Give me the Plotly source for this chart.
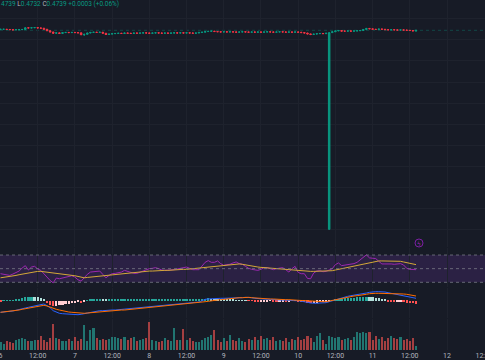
import plotly.graph_objects as go
import pandas as pd

# ---------------- data (prices in 1e-4 units) ----------------
opens = [4743,4744,4744,4743,4742,4741,4742,4742,4743,4751,
4750,4751,4752,4750,4749,4744,4737,4731,4725,4727,
4724,4728,4729,4728,4729,4728,4727,4718,4720,4726,
4729,4730,4729,4730,4725,4719,4721,4723,4724,4725,
4724,4726,4725,4724,4726,4725,4726,4727,4726,4725,
4726,4727,4726,4725,4726,4725,4726,4727,4726,4727,
4726,4727,4726,4725,4726,4729,4730,4733,4734,4735,
4733,4732,4731,4732,4731,4732,4731,4730,4731,4732,
4731,4730,4731,4730,4731,4730,4731,4732,4731,4730,
4731,4732,4731,4730,4731,4730,4731,4730,4728,4726,
4722,4719,4721,4723,4724,4723,3793,4728,4732,4736,
4738,4735,4735,4736,4735,4736,4737,4738,4743,4748,
4746,4744,4743,4745,4744,4742,4741,4742,4741,4740,
4741,4740,4739,4738,4736]
highs = [4745,4745,4745,4744,4743,4743,4743,4744,4753,4752,
4753,4754,4753,4751,4750,4745,4738,4732,4729,4728,
4729,4730,4730,4730,4730,4729,4728,4722,4727,4730,
4731,4731,4731,4731,4726,4722,4724,4725,4726,4726,
4727,4727,4726,4727,4727,4727,4728,4728,4727,4727,
4728,4728,4727,4727,4727,4727,4728,4728,4728,4728,
4728,4728,4727,4727,4730,4731,4734,4736,4737,4736,
4734,4733,4733,4733,4733,4733,4732,4732,4733,4733,
4732,4732,4732,4732,4732,4732,4733,4733,4732,4732,
4733,4733,4732,4732,4732,4732,4732,4731,4729,4727,
4723,4722,4724,4725,4725,4726,4729,4733,4737,4740,
4739,4736,4737,4737,4737,4738,4739,4744,4750,4749,
4747,4745,4746,4746,4745,4743,4743,4743,4742,4742,
4742,4741,4740,4739,4739]
lows = [4742,4743,4742,4741,4740,4740,4741,4741,4742,4749,
4749,4750,4748,4747,4743,4735,4729,4722,4723,4722,
4723,4727,4727,4727,4727,4725,4716,4712,4719,4725,
4728,4728,4728,4724,4717,4718,4720,4722,4723,4723,
4723,4724,4723,4723,4724,4724,4725,4725,4724,4724,
4725,4725,4724,4724,4724,4724,4725,4725,4725,4725,
4725,4725,4724,4724,4725,4728,4729,4732,4733,4732,
4731,4730,4730,4730,4730,4730,4729,4729,4730,4730,
4729,4729,4729,4729,4729,4729,4730,4730,4729,4729,
4730,4730,4729,4729,4729,4729,4729,4727,4725,4720,
4716,4718,4720,4722,4722,4722,3793,4727,4731,4735,
4734,4734,4734,4734,4734,4735,4736,4737,4742,4745,
4743,4742,4742,4743,4741,4740,4740,4740,4739,4739,
4739,4738,4737,4735,4732]
closes = [4744,4744,4743,4742,4741,4742,4742,4743,4751,4750,
4751,4752,4750,4749,4744,4737,4731,4725,4727,4724,
4728,4729,4728,4729,4728,4727,4718,4720,4726,4729,
4730,4729,4730,4725,4719,4721,4723,4724,4725,4724,
4726,4725,4724,4726,4725,4726,4727,4726,4725,4726,
4727,4726,4725,4726,4725,4726,4727,4726,4727,4726,
4727,4726,4725,4726,4729,4730,4733,4734,4735,4733,
4732,4731,4732,4731,4732,4731,4730,4731,4732,4731,
4730,4731,4730,4731,4730,4731,4732,4731,4730,4731,
4732,4731,4730,4731,4730,4731,4730,4728,4726,4722,
4719,4721,4723,4724,4723,4725,4728,4732,4736,4738,
4735,4735,4736,4735,4736,4737,4738,4743,4748,4746,
4744,4743,4745,4744,4742,4741,4742,4741,4740,4741,
4740,4739,4738,4736,4739]

volumes = [8,6,9,8,7,10,11,12,11,9,
9,10,10,14,10,8,12,26,12,11,
9,9,11,9,13,9,11,25,9,20,
22,12,10,11,10,11,13,13,12,11,
13,10,12,13,9,10,11,12,28,10,
9,8,9,12,10,9,22,10,10,21,
10,12,9,8,8,10,12,13,15,20,
10,8,12,9,15,10,9,12,9,8,
11,10,13,10,14,11,12,10,13,9,
10,9,12,8,11,10,13,10,11,14,
12,8,14,17,10,6,14,13,12,13,
10,11,12,10,13,18,17,18,17,18,
10,14,11,13,9,12,14,12,11,13,
10,11,9,12,4]

rsi = [42.6,41.6,40.6,40.1,42.1,44.1,46.5,51.0,54.4,48.0,
52.4,53.4,49.5,47.5,42.6,36.6,32.7,29.2,36.2,35.2,
36.2,37.6,38.6,39.6,37.6,33.7,31.7,37.1,41.6,45.0,
45.5,46.0,46.5,41.6,36.6,40.1,42.6,43.1,43.6,45.0,
47.5,46.0,44.1,43.1,43.1,45.0,46.5,48.5,50.0,50.5,
51.5,50.0,48.0,47.5,47.5,48.0,48.5,49.5,50.5,51.5,
52.4,50.5,48.5,48.5,48.5,53.9,59.3,61.8,59.3,59.3,
61.3,57.4,54.9,55.9,56.4,58.4,59.8,57.4,56.4,53.4,
50.5,49.0,48.5,47.5,49.0,51.5,51.5,49.5,48.5,50.0,
51.0,51.5,48.5,45.0,50.0,53.4,44.5,42.6,42.6,35.7,
35.2,43.6,46.5,47.0,45.5,46.0,48.0,50.0,55.9,58.4,
54.4,54.9,55.9,56.4,57.4,59.3,62.8,67.2,70.2,65.8,
64.8,64.8,60.8,56.9,56.9,57.4,56.9,56.4,56.9,57.4,
55.4,50.5,49.0,48.5,48.5]
rsi_ma = [36.6,37.1,38.1,38.6,39.1,40.1,41.1,42.1,43.1,44.1,
45.0,45.5,46.0,46.0,45.5,45.0,44.5,44.1,43.6,43.1,
42.6,42.1,41.6,40.6,39.6,38.6,37.6,36.6,37.1,37.6,
38.6,39.1,39.6,40.1,40.6,41.1,41.6,41.6,42.1,42.6,
43.1,43.6,44.1,44.1,44.5,45.0,45.5,46.0,46.5,46.5,
47.0,47.0,47.5,47.5,47.5,48.0,48.0,48.5,48.5,49.0,
49.0,49.5,49.5,50.0,50.0,50.5,51.0,51.5,52.4,52.9,
53.4,53.9,54.4,54.9,55.4,55.9,56.4,56.9,56.4,55.4,
54.4,53.4,52.9,52.4,51.9,51.5,51.5,51.0,50.5,50.5,
50.0,49.5,49.0,48.5,48.0,47.5,47.0,46.5,46.5,46.0,
46.0,46.0,46.0,46.0,46.0,46.0,46.5,47.0,48.0,49.0,
50.0,51.0,51.9,52.4,53.4,54.4,55.4,56.4,57.4,58.4,
59.3,60.3,61.3,61.3,61.3,61.3,61.3,61.3,61.3,60.8,
59.8,58.8,57.9,56.9,55.9]

# MACD values in 1e-4 units
macd = [-11.6,-11.3,-11.3,-11.0,-10.3,-9.6,-8.6,-8.0,-7.3,-6.6,
-6.0,-5.3,-4.6,-4.0,-3.3,-5.0,-7.0,-10.0,-11.6,-12.6,
-13.0,-13.3,-13.3,-13.6,-13.6,-14.0,-13.6,-13.0,-12.3,-11.6,
-11.0,-10.3,-10.0,-10.0,-9.6,-9.6,-9.3,-9.3,-9.0,-8.6,
-8.3,-8.0,-7.6,-7.6,-7.3,-7.0,-6.6,-6.3,-6.0,-5.6,
-5.3,-5.0,-4.6,-4.3,-4.0,-3.6,-3.3,-3.0,-2.6,-2.6,
-2.3,-2.0,-1.6,-1.3,-1.3,0.0,1.4,1.7,2.0,2.4,
2.4,2.4,2.4,2.4,2.4,2.4,2.7,3.0,3.0,3.4,
3.4,3.0,2.4,2.0,1.7,1.7,1.4,1.4,1.0,0.7,
0.7,0.7,0.4,0.4,0.4,0.0,0.0,-0.3,-1.0,-1.6,
-2.3,-2.6,-2.6,-2.3,-2.3,-2.0,-1.0,0.0,0.7,1.7,
2.4,3.4,4.4,5.0,5.4,6.0,6.4,7.0,7.7,8.4,
9.0,9.0,9.0,9.0,8.7,8.0,7.4,7.0,6.4,6.0,
5.4,4.7,3.7,3.0,2.4]
signal = [-11.6,-11.3,-11.0,-10.6,-10.3,-10.0,-9.3,-8.6,-8.0,-7.6,
-7.0,-6.3,-5.6,-5.0,-4.6,-5.3,-6.6,-7.6,-8.6,-9.3,
-10.0,-11.0,-11.3,-11.6,-12.0,-12.3,-12.6,-12.6,-12.3,-12.0,
-11.6,-11.3,-11.0,-10.6,-10.6,-10.3,-10.0,-10.0,-9.6,-9.3,
-9.3,-9.0,-8.6,-8.6,-8.3,-8.0,-7.6,-7.3,-7.0,-6.6,
-6.3,-6.0,-5.6,-5.3,-5.0,-4.6,-4.3,-4.0,-3.6,-3.3,
-3.3,-3.0,-2.6,-2.3,-2.0,-1.6,-1.0,-0.6,0.0,0.4,
0.7,1.0,1.4,1.7,2.0,2.4,2.7,3.0,3.0,3.4,
3.4,3.0,2.7,2.4,2.0,2.0,1.7,1.7,1.7,1.4,
1.4,1.4,1.0,1.0,0.7,0.7,0.4,0.4,0.0,0.0,
-0.3,-0.3,-0.6,-0.6,-1.0,-1.0,-0.3,0.0,0.7,1.4,
2.0,2.7,3.4,4.0,4.7,5.0,5.7,6.0,6.4,7.0,
7.4,7.4,7.4,7.4,7.4,7.4,7.4,7.0,7.0,6.7,
6.7,6.4,5.7,5.4,4.7]
hist = [-0.5,0.3,0.3,0.5,0.6,0.8,1.5,3.0,3.5,4.0,
4.0,3.8,3.5,3.0,2.0,-2.0,-4.0,-5.0,-5.0,-4.5,
-4.0,-3.5,-3.0,-2.5,-2.0,-1.5,-2.0,-0.8,0.5,1.0,
1.5,1.8,2.0,1.5,1.0,1.0,1.2,1.3,1.4,1.4,
1.5,1.5,1.6,1.6,1.6,1.7,1.7,1.7,1.8,1.8,
1.8,1.8,1.9,1.9,1.9,1.9,2.0,2.0,2.0,2.0,
2.0,2.0,2.0,2.0,2.0,2.1,2.2,2.3,2.2,2.0,
1.8,1.6,1.4,1.2,1.0,0.8,0.6,0.4,0.3,0.2,
-0.2,-0.3,-0.5,-0.6,-0.5,-0.4,-0.4,-0.3,-0.5,-0.6,
-0.5,-0.4,-0.5,-0.4,-0.3,-0.3,-0.4,-0.8,-1.2,-1.8,
-2.2,-2.0,-1.8,-1.6,-1.4,-1.0,-0.5,0.5,1.5,2.0,
2.2,2.5,2.8,3.0,3.2,3.5,3.8,4.0,4.2,3.8,
3.5,3.0,2.5,2.0,1.5,-0.5,-1.0,-1.2,-1.0,-0.8,
-1.2,-1.8,-2.3,-2.6,-2.8]

tick_labels = ["6", "12:00", "7", "12:00", "8", "12:00", "9", "12:00",
               "10", "12:00", "11", "12:00", "12", "12:00"]

# ---------------- styling ----------------
BG = "#171b26"
GRID = "#1e222d"
UP = "#089981"
DOWN = "#f23645"
W, H = 485, 360

start = pd.Timestamp("2024-06-06 00:00")
times = pd.date_range(start, periods=len(closes), freq="h")
P = 1e-4

o = [v * P for v in opens]
hi = [v * P for v in highs]
lo = [v * P for v in lows]
c = [v * P for v in closes]

def dom(top_px, bot_px):
    return [1 - bot_px / H, 1 - top_px / H]

fig = go.Figure()

fig.add_trace(go.Candlestick(
    x=times, open=o, high=hi, low=lo, close=c,
    increasing=dict(line=dict(color=UP, width=1), fillcolor=UP),
    decreasing=dict(line=dict(color=DOWN, width=1), fillcolor=DOWN),
    whiskerwidth=0, xaxis="x", yaxis="y", showlegend=False, hoverinfo="skip"))

fig.add_trace(go.Scatter(x=times, y=rsi, mode="lines",
                         line=dict(color="#9c27b0", width=1),
                         xaxis="x", yaxis="y2", showlegend=False))
fig.add_trace(go.Scatter(x=times, y=rsi_ma, mode="lines",
                         line=dict(color="#d4a838", width=1),
                         xaxis="x", yaxis="y2", showlegend=False))

hist_colors = []
prev = 0.0
for v in hist:
    if v >= 0:
        hist_colors.append("#26a69a" if v >= prev else "#b2dfdb")
    else:
        hist_colors.append("#ff5252" if v < prev else "#ffcdd2")
    prev = v
fig.add_trace(go.Bar(x=times, y=[v * P for v in hist], marker=dict(color=hist_colors, line=dict(width=0)),
                     width=2.6e6, xaxis="x", yaxis="y3", showlegend=False))
fig.add_trace(go.Scatter(x=times, y=[v * P for v in macd], mode="lines",
                         line=dict(color="#2962ff", width=1),
                         xaxis="x", yaxis="y3", showlegend=False))
fig.add_trace(go.Scatter(x=times, y=[v * P for v in signal], mode="lines",
                         line=dict(color="#ff6d00", width=1),
                         xaxis="x", yaxis="y3", showlegend=False))

vol_colors = ["rgba(38,166,154,0.65)" if cl >= op else "rgba(239,83,80,0.65)"
              for op, cl in zip(opens, closes)]
fig.add_trace(go.Bar(x=times, y=volumes, marker=dict(color=vol_colors, line=dict(width=0)),
                     width=2.4e6, xaxis="x", yaxis="y4", showlegend=False))

# x axis: pixel fit x = 0.49 + 3.1008*h
hour = pd.Timedelta(hours=1)
x0 = start + (-0.49 / 3.1008) * hour
x1 = start + ((W - 0.49) / 3.1008) * hour
tickvals = [start + pd.Timedelta(hours=12 * k) for k in range(len(tick_labels))]

fig.update_layout(
    width=W, height=H, margin=dict(l=0, r=0, t=0, b=0, autoexpand=False),
    paper_bgcolor=BG, plot_bgcolor=BG, bargap=0,
    font=dict(family="Roboto, DejaVu Sans, sans-serif"),
    xaxis=dict(type="date", range=[x0, x1], anchor="y4", tickvals=tickvals,
               ticktext=tick_labels, showgrid=True, gridcolor=GRID, gridwidth=1,
               tickfont=dict(size=7, color="#b2b5be"), ticklabeloverflow="allow",
               automargin=False,
               rangeslider=dict(visible=False), zeroline=False, showline=False,
               ticks="", fixedrange=True),
    yaxis=dict(domain=dom(0, 247), range=[0.37091, 0.48830], tick0=0.37932, dtick=0.01,
               showticklabels=False, showgrid=True, gridcolor=GRID, zeroline=False,
               automargin=False),
    yaxis2=dict(domain=dom(248, 287), range=[23.1, 80.3], showticklabels=False,
                showgrid=False, zeroline=False, automargin=False),
    yaxis3=dict(domain=dom(288, 318), range=[-0.00173, 0.00127], showticklabels=False,
                showgrid=False, zeroline=False, automargin=False),
    yaxis4=dict(domain=dom(319, 350), range=[0, 31], showticklabels=False,
                showgrid=False, zeroline=False, automargin=False),
)

shapes = []
# RSI band and levels
shapes.append(dict(type="rect", xref="paper", yref="y2", x0=0, x1=1, y0=30, y1=70,
                   fillcolor="rgba(126,60,190,0.2)", line=dict(width=0), layer="below"))
for lvl in (70, 50, 30):
    shapes.append(dict(type="line", xref="paper", yref="y2", x0=0, x1=1, y0=lvl, y1=lvl,
                       line=dict(color="rgba(120,123,134,0.8)", width=1, dash="3px,3px")))
# last price line
shapes.append(dict(type="line", xref="paper", yref="y", x0=0, x1=1,
                   y0=closes[-1] * P, y1=closes[-1] * P,
                   line=dict(color="rgba(8,153,129,0.35)", width=1, dash="dot"), layer="below"))
# alert icon circle
shapes.append(dict(type="circle", xref="paper", yref="paper",
                   x0=415 / W, x1=423 / W, y0=1 - 247 / H, y1=1 - 239 / H,
                   line=dict(color="#7b1fa2", width=1)))
fig.update_layout(shapes=shapes)

lab = "#b2b5be"
val = UP
header = (f"<span style='color:{val}'>4739</span> "
          f"<span style='color:{lab}'>L</span><span style='color:{val}'>0.4732</span> "
          f"<span style='color:{lab}'>C</span><span style='color:{val}'>0.4739</span> "
          f"<span style='color:{val}'>+0.0003 (+0.06%)</span>")
fig.add_annotation(xref="paper", yref="paper", x=-1 / W, y=1 - 4.5 / H, text=header,
                   showarrow=False, xanchor="left", yanchor="middle",
                   font=dict(size=6.5, color=val))
fig.add_annotation(xref="paper", yref="paper", x=419 / W, y=1 - 243 / H, text="ϟ",
                   showarrow=False, xanchor="center", yanchor="middle",
                   font=dict(size=6, color="#9c27b0"))

fig.write_html("out.html", config={"displayModeBar": False},
               post_script="document.body.style.margin='0';document.body.style.overflow='hidden';")
